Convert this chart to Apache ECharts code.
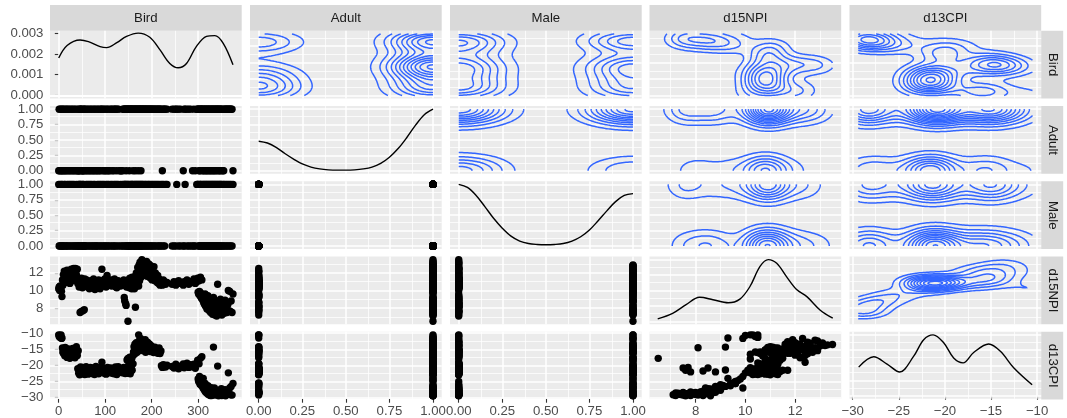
<!DOCTYPE html>
<html>
<head>
<meta charset="utf-8">
<script src="https://cdn.jsdelivr.net/npm/echarts@6/dist/echarts.min.js"></script>
<style>
html,body{margin:0;padding:0;background:#ffffff;}
#chart{width:1067px;height:418px;}
</style>
</head>
<body>
<div id="chart"></div>
<script>
// ---- observations: one entry per sample ----
const bird = [0,1,2,3,5,6,7,8,9,10,
12,13,14,16,17,18,20,21,23,24,
26,27,29,30,32,33,35,36,38,40,
41,42,43,44,45,46,47,48,49,50,
51,52,53,54,55,56,57,59,60,62,
63,65,66,68,69,71,72,74,75,77,
78,80,81,83,84,86,87,89,90,92,
93,95,96,98,99,101,102,104,105,107,
108,110,112,114,115,117,119,120,122,123,
125,127,128,131,133,135,137,138,140,141,
142,143,144,145,146,147,148,149,150,151,
152,153,154,155,156,157,158,159,160,161,
162,163,164,165,166,167,168,169,170,171,
172,173,174,175,176,177,178,179,180,181,
182,184,185,186,187,189,190,191,193,194,
195,197,198,199,201,202,204,205,207,208,
210,212,213,215,216,218,220,221,223,225,
226,228,230,233,244,248,252,254,258,262,
268,270,272,276,280,284,288,291,294,297,
299,300,301,302,303,304,305,306,307,308,
309,310,311,312,313,314,315,316,317,318,
319,320,321,322,323,324,325,326,327,328,
329,330,331,332,333,334,335,336,337,338,
339,340,341,342,343,344,345,346,347,348,
349,350,351,353,354,355,356,358,359,361,
362,364,365,367,368,370,371,373,375];

const adult = [0,1,0,1,0,1,0,1,0,1,
0,1,0,1,0,1,0,1,0,1,
0,1,0,1,0,1,0,1,0,1,
0,0,1,0,0,1,1,1,0,1,
0,0,1,0,1,1,0,1,0,1,
0,1,0,1,0,1,0,1,0,1,
0,1,0,1,0,1,0,1,0,1,
1,0,1,0,1,0,1,0,1,0,
1,0,1,1,0,1,0,1,1,1,
0,1,1,0,0,0,1,0,1,1,
1,1,1,0,1,1,1,1,1,1,
0,1,1,1,1,1,1,1,0,1,
1,1,1,0,1,1,1,1,1,0,
1,1,1,1,1,0,1,1,1,1,
1,1,1,1,1,1,1,1,1,1,
1,1,1,1,1,1,1,1,1,1,
1,1,1,1,1,1,1,1,0,1,
1,1,1,1,1,1,1,1,1,1,
0,1,1,1,1,1,0,1,0,1,
1,1,1,0,1,0,1,1,1,1,
0,1,1,0,1,1,0,1,1,0,
1,1,0,1,1,0,1,1,0,1,
1,0,1,1,0,1,1,0,1,1,
0,1,1,1,0,1,1,0,1,1,
0,1,1,0,1,0,1,1,1,1,
1,1,1,1,1,1,1,1,0];

const male = [1,0,0,1,0,1,0,1,0,0,
1,0,1,0,0,1,0,1,0,1,
0,1,0,1,0,1,0,0,1,0,
0,1,0,1,0,1,1,0,0,1,
0,1,0,1,0,0,0,1,0,1,
0,1,0,1,0,1,0,0,1,0,
1,0,0,1,0,1,0,1,0,1,
0,1,0,1,0,0,1,0,1,0,
1,0,1,0,1,0,1,0,1,0,
1,0,1,0,1,0,1,0,1,0,
1,1,0,1,0,1,0,1,0,1,
0,0,1,0,1,0,1,1,0,0,
1,0,1,0,1,0,1,0,1,0,
1,0,1,0,1,0,1,0,1,0,
1,0,1,0,1,0,1,0,1,0,
1,0,1,0,1,0,1,0,1,0,
1,0,1,0,1,0,1,0,1,0,
1,0,1,1,0,0,0,1,0,0,
0,0,1,0,0,0,0,0,0,1,
1,1,0,0,1,0,1,1,0,0,
1,0,1,0,1,0,1,0,1,0,
1,0,1,0,1,0,1,0,1,0,
1,0,1,0,1,0,1,0,1,0,
1,0,1,0,1,0,1,0,1,0,
1,0,1,0,1,0,1,0,1,0,
1,0,1,0,1,0,1,0,1];

const d15n = [10.2,10.4,10.0,10.5,10.3,9.9,9.3,11.2,10.6,11.8,
12.2,11.5,10.9,12.0,11.4,12.3,11.0,11.7,12.1,10.8,
11.6,12.4,11.1,11.9,12.5,11.3,12.2,12.5,11.8,12.4,
10.8,11.0,11.2,10.4,11.0,7.5,10.6,7.6,11.4,10.9,
10.3,7.7,11.1,10.7,7.8,11.3,10.5,10.9,11.2,10.4,
10.8,11.0,10.2,10.6,11.1,10.9,10.3,10.7,11.3,10.5,
10.1,10.8,11.0,10.4,10.9,11.2,10.6,10.2,11.0,10.7,
12.4,11.1,10.5,10.9,11.3,10.8,10.4,11.7,10.9,10.6,
11.1,10.7,11.2,10.5,10.9,11.0,10.6,11.3,10.8,10.4,
10.3,10.9,11.1,10.7,10.5,11.0,10.8,10.6,11.2,9.2,
8.8,10.9,8.5,8.3,10.4,11.0,10.6,6.5,11.2,10.8,
10.3,11.4,10.9,10.5,11.1,10.2,11.5,10.7,11.3,10.4,
11.0,10.2,11.6,8.1,10.8,12.0,10.5,11.8,12.6,11.3,
10.5,12.9,11.1,13.2,12.3,11.5,12.8,13.5,12.1,11.7,
12.9,13.1,12.4,11.9,12.7,13.3,11.6,12.5,12.0,13.0,
12.2,11.4,12.8,12.6,11.2,12.3,11.8,12.7,11.1,12.0,
11.5,10.9,11.7,10.8,11.3,10.6,11.0,10.9,10.6,11.2,
10.8,11.0,10.7,10.9,10.7,11.0,10.6,10.9,11.1,10.8,
10.6,11.0,10.8,11.2,10.7,11.0,10.9,11.3,10.8,11.0,
11.4,9.8,9.6,11.1,9.9,9.4,11.5,9.7,9.1,11.2,
9.5,8.9,9.3,8.6,9.0,8.4,9.6,8.2,8.8,9.2,
7.9,8.5,9.4,8.0,8.7,7.7,9.0,8.3,7.5,8.9,
7.8,8.6,7.3,8.1,9.2,7.6,8.4,7.2,8.8,7.4,
8.2,7.1,8.0,10.7,7.8,8.6,7.3,8.3,7.5,9.0,
7.9,8.5,7.2,8.7,7.7,8.1,7.4,8.9,7.6,8.2,
7.5,8.4,10.0,7.7,9.9,7.6,8.8,7.5,9.6];

const d13c = [-10.5,-11.0,-10.7,-11.3,-10.5,-11.6,-11.5,-14.6,-15.8,-16.2,
-15.1,-17.0,-14.4,-16.8,-15.5,-17.5,-16.0,-14.9,-16.6,-17.8,
-15.3,-16.1,-17.2,-14.7,-16.4,-15.7,-17.6,-15.0,-14.2,-16.9,
-21.0,-15.4,-22.4,-21.8,-22.9,-20.8,-20.5,-21.5,-21.9,-22.6,
-21.3,-20.6,-22.2,-20.9,-22.0,-22.8,-21.6,-20.4,-22.1,-21.4,
-22.7,-21.1,-22.3,-20.6,-21.7,-22.5,-21.2,-20.8,-22.0,-22.8,
-21.5,-20.3,-21.9,-22.4,-21.0,-22.6,-21.3,-20.7,-22.2,-21.6,
-19.0,-22.0,-20.9,-21.8,-22.5,-21.1,-22.7,-21.5,-20.6,-22.3,
-21.2,-22.0,-20.8,-21.7,-22.4,-21.0,-22.6,-21.4,-20.5,-21.9,
-22.8,-21.3,-20.4,-22.1,-21.6,-20.9,-22.3,-21.1,-20.6,-21.4,
-22.0,-22.5,-20.8,-21.7,-21.0,-18.3,-22.4,-17.8,-20.2,-18.9,
-21.8,-17.4,-22.6,-19.2,-20.8,-18.0,-21.5,-17.1,-19.5,-15.8,
-14.2,-16.5,-13.4,-14.5,-15.2,-12.9,-16.0,-14.0,-13.1,-15.6,
-10.5,-12.4,-14.6,-13.8,-11.6,-15.0,-12.2,-13.5,-14.8,-12.6,
-15.4,-13.0,-14.1,-12.0,-15.9,-13.6,-14.4,-12.8,-15.1,-14.0,
-13.3,-15.7,-14.5,-13.9,-15.3,-14.7,-16.0,-15.0,-14.3,-15.6,
-14.9,-15.8,-16.2,-15.2,-14.6,-16.3,-15.5,-20.1,-20.6,-19.8,
-20.4,-20.0,-20.5,-19.9,-20.3,-20.8,-19.6,-20.5,-21.0,-20.2,
-19.5,-20.7,-20.0,-19.3,-20.6,-19.8,-20.4,-19.6,-20.9,-19.4,
-18.4,-24.2,-25.0,-19.5,-23.4,-25.8,-17.8,-24.7,-26.2,-17.3,
-25.4,-26.8,-24.0,-27.3,-26.0,-27.8,-25.6,-28.2,-27.0,-26.5,
-28.6,-27.5,-26.3,-29.0,-28.0,-28.8,-27.2,-29.3,-28.4,-26.9,
-29.3,-28.1,-28.9,-28.9,-14.3,-29.2,-27.0,-28.5,-28.3,-29.0,
-28.7,-29.1,-28.4,-20.2,-28.2,-29.4,-28.6,-28.0,-29.0,-27.7,
-28.6,-27.2,-29.3,-28.4,-28.7,-29.2,-28.8,-27.5,-29.4,-28.3,
-28.5,-28.8,-22.3,-28.9,-27.0,-29.1,-26.5,-29.2,-25.6];

// ---- marginal density curves (diagonal panels) ----
const birdDensX = [0,18,46,64,89,103,125,146,171,196,218,239,257,275,296,318,336,354,375];
const birdDensY = [0.00180,0.00240,0.00267,0.00259,0.00235,0.00230,0.00254,0.00284,0.00300,0.00280,0.00219,0.00154,0.00133,0.00154,0.00235,0.00284,0.00288,0.00251,0.00148];
const binDensX = [0,0.05,0.1,0.15,0.2,0.25,0.3,0.35,0.4,0.45,0.5,0.55,0.6,0.65,0.7,0.75,0.8,0.85,0.9,0.95,1];
const adultDensY = [0.48,0.45,0.38,0.28,0.19,0.11,0.06,0.03,0.015,0.01,0.01,0.015,0.03,0.06,0.12,0.22,0.36,0.54,0.74,0.91,1.0];
const maleDensY = [1.0,0.95,0.82,0.64,0.45,0.29,0.16,0.08,0.04,0.025,0.02,0.025,0.04,0.08,0.15,0.26,0.41,0.57,0.72,0.82,0.85];
const d15nDensX = [6.48,7.08,7.62,8.16,8.70,9.31,9.78,10.18,10.59,10.92,11.26,11.66,12.07,12.47,13.01,13.51];
const d15nDensY = [0.04,0.13,0.27,0.39,0.35,0.30,0.36,0.56,0.89,1.0,0.94,0.72,0.51,0.40,0.18,0.05];
const d13cDensX = [-29.35,-27.72,-26.27,-24.9,-23.38,-22.3,-21.28,-20.13,-19.05,-18.03,-16.88,-15.25,-13.98,-12.54,-10.54];
const d13cDensY = [0.47,0.64,0.52,0.39,0.65,0.92,1.0,0.87,0.62,0.54,0.71,0.85,0.73,0.46,0.18];

// ---- axis breaks ----
const varNames = ['Bird','Adult','Male','d15NPI','d13CPI'];
const birdTicks = [0,100,200,300];
const binTicks = [0,0.25,0.5,0.75,1];
const d15nTicks = [8,10,12];
const d13cTicks = [-30,-25,-20,-15,-10];
const densTicks = [0,0.001,0.002,0.003];
const relDensTicks = [0,0.25,0.5,0.75,1];

// ---- layout ----
const FONT = '"Liberation Sans", Arial, Helvetica, sans-serif';
const FONT_SIZE = 13.2;
const colLeft = [50, 250, 450, 649.5, 849.5];
const panelW = 191.7;
const rowTop = [30.8, 106.05, 181.3, 256.55, 331.8];
const panelH = 67.8;

const vars = [bird, adult, male, d15n, d13c];
const ticksOf = [birdTicks, binTicks, binTicks, d15nTicks, d13cTicks];
const minus = s => s.replace('-', '\u2212');
const fmtOf = [v => String(Math.round(v)), v => v.toFixed(2), v => v.toFixed(2), v => String(Math.round(v)), v => minus(String(Math.round(v)))];
const diagCurves = [
  [birdDensX, birdDensY], [binDensX, adultDensY], [binDensX, maleDensY], [d15nDensX, d15nDensY], [d13cDensX, d13cDensY]
];

function extentOf(a) {
  let lo = Infinity, hi = -Infinity;
  for (const v of a) { if (v < lo) lo = v; if (v > hi) hi = v; }
  const e = (hi - lo) * 0.05;
  return { lo, hi, min: lo - e, max: hi + e };
}
const ext = vars.map(extentOf);
const birdDensExt = { min: -0.00015, max: 0.00311 };
const relExt = { min: -0.05, max: 1.05 };

function minorsOf(major, min, max) {
  const out = [];
  const step = major[1] - major[0];
  for (let i = 0; i < major.length - 1; i++) out.push((major[i] + major[i + 1]) / 2);
  if (major[0] - step / 2 > min) out.unshift(major[0] - step / 2);
  if (major[major.length - 1] + step / 2 < max) out.push(major[major.length - 1] + step / 2);
  return out;
}

// ---- statistics for the density contours ----
function quantile(sorted, p) {
  const h = (sorted.length - 1) * p, lo = Math.floor(h);
  const hi = Math.min(lo + 1, sorted.length - 1);
  return sorted[lo] + (h - lo) * (sorted[hi] - sorted[lo]);
}
function bandwidthNrd(x) {
  const s = x.slice().sort((a, b) => a - b);
  const iqr = (quantile(s, 0.75) - quantile(s, 0.25)) / 1.34;
  const m = x.reduce((a, b) => a + b, 0) / x.length;
  const sd = Math.sqrt(x.reduce((a, b) => a + (b - m) * (b - m), 0) / (x.length - 1));
  return 4 * 1.06 * Math.min(sd, iqr) * Math.pow(x.length, -0.2);
}
function kde2d(x, y, n) {
  const hx = bandwidthNrd(x) / 4, hy = bandwidthNrd(y) / 4;
  const ex = extentOf(x), ey = extentOf(y);
  const gx = [], gy = [];
  for (let i = 0; i < n; i++) {
    gx.push(ex.lo + (ex.hi - ex.lo) * i / (n - 1));
    gy.push(ey.lo + (ey.hi - ey.lo) * i / (n - 1));
  }
  const N = x.length, c = 1 / Math.sqrt(2 * Math.PI);
  const ax = gx.map(g => x.map(v => { const u = (g - v) / hx; return c * Math.exp(-0.5 * u * u); }));
  const ay = gy.map(g => y.map(v => { const u = (g - v) / hy; return c * Math.exp(-0.5 * u * u); }));
  const z = [];
  for (let i = 0; i < n; i++) {
    const row = new Float64Array(n);
    const a = ax[i];
    for (let j = 0; j < n; j++) {
      const b = ay[j];
      let s = 0;
      for (let k = 0; k < N; k++) s += a[k] * b[k];
      row[j] = s / (N * hx * hy);
    }
    z.push(row);
  }
  return { gx, gy, z };
}
function prettyBreaks(lo, hi, n) {
  const cell = (hi - lo) / n;
  const U = Math.pow(10, Math.floor(Math.log10(cell)));
  let unit = U;
  if (2 * U - cell < 1.5 * (cell - unit)) {
    unit = 2 * U;
    if (5 * U - cell < 2.75 * (cell - unit)) {
      unit = 5 * U;
      if (10 * U - cell < 1.5 * (cell - unit)) unit = 10 * U;
    }
  }
  const ns = Math.floor(lo / unit + 1e-7), nu = Math.ceil(hi / unit - 1e-7);
  const out = [];
  for (let i = ns; i <= nu; i++) out.push(i * unit);
  return out;
}
function isolines(gx, gy, z, level) {
  const nx = gx.length, ny = gy.length;
  const pts = new Map(), adj = new Map();
  const pt = (key, xa, ya, za, xb, yb, zb) => {
    if (!pts.has(key)) { const t = (level - za) / (zb - za); pts.set(key, [xa + t * (xb - xa), ya + t * (yb - ya)]); }
    return key;
  };
  const link = (a, b) => {
    if (!adj.has(a)) adj.set(a, []);
    if (!adj.has(b)) adj.set(b, []);
    adj.get(a).push(b); adj.get(b).push(a);
  };
  for (let i = 0; i < nx - 1; i++) {
    for (let j = 0; j < ny - 1; j++) {
      const zbl = z[i][j], zbr = z[i + 1][j], ztr = z[i + 1][j + 1], ztl = z[i][j + 1];
      let c = 0;
      if (zbl >= level) c |= 1; if (zbr >= level) c |= 2; if (ztr >= level) c |= 4; if (ztl >= level) c |= 8;
      if (c === 0 || c === 15) continue;
      const B = () => pt('h' + i + '_' + j, gx[i], gy[j], zbl, gx[i + 1], gy[j], zbr);
      const T = () => pt('h' + i + '_' + (j + 1), gx[i], gy[j + 1], ztl, gx[i + 1], gy[j + 1], ztr);
      const L = () => pt('v' + i + '_' + j, gx[i], gy[j], zbl, gx[i], gy[j + 1], ztl);
      const R = () => pt('v' + (i + 1) + '_' + j, gx[i + 1], gy[j], zbr, gx[i + 1], gy[j + 1], ztr);
      const centre = (zbl + zbr + ztr + ztl) / 4 >= level;
      switch (c) {
        case 1: case 14: link(L(), B()); break;
        case 2: case 13: link(B(), R()); break;
        case 3: case 12: link(L(), R()); break;
        case 4: case 11: link(R(), T()); break;
        case 6: case 9: link(B(), T()); break;
        case 7: case 8: link(L(), T()); break;
        case 5: if (centre) { link(L(), T()); link(B(), R()); } else { link(L(), B()); link(R(), T()); } break;
        case 10: if (centre) { link(L(), B()); link(R(), T()); } else { link(B(), R()); link(L(), T()); } break;
      }
    }
  }
  const walk = start => {
    const chain = [pts.get(start)];
    let cur = start;
    while (true) {
      const nb = adj.get(cur);
      if (!nb || nb.length === 0) break;
      const nxt = nb.pop();
      const back = adj.get(nxt), idx = back.indexOf(cur);
      if (idx >= 0) back.splice(idx, 1);
      chain.push(pts.get(nxt));
      cur = nxt;
      if (cur === start) break;
    }
    return chain;
  };
  const chains = [];
  for (const [k, nb] of adj) if (nb.length === 1) chains.push(walk(k));
  for (const [k, nb] of adj) while (nb.length > 0) chains.push(walk(k));
  return chains;
}
function densityContours(x, y) {
  const { gx, gy, z } = kde2d(x, y, 100);
  let lo = Infinity, hi = -Infinity;
  for (const row of z) for (const v of row) { if (v < lo) lo = v; if (v > hi) hi = v; }
  const levels = prettyBreaks(lo, hi, 10);
  const out = [];
  for (const lv of levels) {
    if (lv <= lo || lv >= hi) continue;
    for (const ch of isolines(gx, gy, z, lv)) if (ch.length > 1) out.push({ coords: ch });
  }
  return out;
}

// ---- build the panel matrix ----
const grids = [], xAxes = [], yAxes = [], series = [];
const labelStyle = { color: '#4D4D4D', fontSize: FONT_SIZE, fontFamily: FONT };

for (let r = 0; r < 5; r++) {
  for (let c = 0; c < 5; c++) {
    const k = r * 5 + c;
    grids.push({ left: colLeft[c], top: rowTop[r], width: panelW, height: panelH, show: true, backgroundColor: '#EBEBEB', borderWidth: 0, containLabel: false });

    const xe = ext[c];
    let ye, yMajor, yFmt;
    if (r === c) {
      if (r === 0) { ye = birdDensExt; yMajor = densTicks; yFmt = v => v.toFixed(3); }
      else { ye = relExt; yMajor = relDensTicks; yFmt = v => String(v); }
    } else { ye = ext[r]; yMajor = ticksOf[r]; yFmt = fmtOf[r]; }
    const xMajor = ticksOf[c];

    xAxes.push({
      type: 'value', gridIndex: k, min: xe.min, max: xe.max,
      splitLine: { show: false }, axisLine: { show: false },
      axisTick: { show: r === 4, customValues: xMajor, length: 3.9, lineStyle: { color: '#333333', width: 1.1 } },
      axisLabel: Object.assign({ show: r === 4, customValues: xMajor, formatter: fmtOf[c], margin: 6.2 }, labelStyle)
    });
    yAxes.push({
      type: 'value', gridIndex: k, min: ye.min, max: ye.max,
      splitLine: { show: false }, axisLine: { show: false },
      axisTick: { show: c === 0, customValues: yMajor, length: 3.9, lineStyle: { color: '#333333', width: 1.1 } },
      axisLabel: Object.assign({ show: c === 0, customValues: yMajor, formatter: yFmt, margin: 6.6 }, labelStyle)
    });

    // panel grid lines
    const gridLines = [];
    minorsOf(xMajor, xe.min, xe.max).forEach(v => gridLines.push({ xAxis: v, lineStyle: { width: 0.75 } }));
    minorsOf(yMajor, ye.min, ye.max).forEach(v => gridLines.push({ yAxis: v, lineStyle: { width: 0.75 } }));
    xMajor.forEach(v => gridLines.push({ xAxis: v }));
    yMajor.forEach(v => gridLines.push({ yAxis: v }));
    series.push({
      type: 'line', xAxisIndex: k, yAxisIndex: k, data: [], silent: true, z: 1,
      markLine: { silent: true, z: 1, symbol: ['none', 'none'], label: { show: false }, animation: false,
        emphasis: { disabled: true },
        lineStyle: { color: '#FFFFFF', type: 'solid', width: 1.5 }, data: gridLines }
    });

    if (r === c) {
      const [dx, dy] = diagCurves[r];
      series.push({
        type: 'line', xAxisIndex: k, yAxisIndex: k, data: dx.map((v, i) => [v, dy[i]]),
        smooth: 0.35, symbol: 'none', silent: true, z: 3,
        lineStyle: { color: '#000000', width: 1.4 }
      });
    } else if (r > c) {
      series.push({
        type: 'scatter', xAxisIndex: k, yAxisIndex: k, silent: true, z: 3,
        data: vars[c].map((v, i) => [v, vars[r][i]]),
        symbolSize: 7.4, itemStyle: { color: '#000000', opacity: 1 }
      });
    } else {
      series.push({
        type: 'lines', coordinateSystem: 'cartesian2d', xAxisIndex: k, yAxisIndex: k,
        polyline: true, silent: true, z: 3,
        data: densityContours(vars[c], vars[r]),
        lineStyle: { color: '#3366FF', width: 1.5, opacity: 1, curveness: 0 }
      });
    }
  }
}

// ---- facet strips ----
const graphics = [];
for (let c = 0; c < 5; c++) {
  graphics.push({ type: 'rect', shape: { x: colLeft[c], y: 5, width: panelW, height: 25.8 }, style: { fill: '#D9D9D9' }, silent: true });
  graphics.push({ type: 'text', x: colLeft[c] + panelW / 2, y: 18.2, silent: true,
    style: { text: varNames[c], fill: '#1A1A1A', fontSize: FONT_SIZE, fontFamily: FONT, align: 'center', verticalAlign: 'middle' } });
}
for (let r = 0; r < 5; r++) {
  graphics.push({ type: 'rect', shape: { x: 1041.2, y: rowTop[r], width: 22, height: panelH }, style: { fill: '#D9D9D9' }, silent: true });
  graphics.push({ type: 'text', x: 1041.2 + 11, y: rowTop[r] + panelH / 2, rotation: -Math.PI / 2, silent: true,
    style: { text: varNames[r], fill: '#1A1A1A', fontSize: FONT_SIZE, fontFamily: FONT, align: 'center', verticalAlign: 'middle' } });
}

const chart = echarts.init(document.getElementById('chart'), null, { renderer: 'canvas', width: 1067, height: 418 });
chart.setOption({
  animation: false,
  backgroundColor: '#FFFFFF',
  grid: grids,
  xAxis: xAxes,
  yAxis: yAxes,
  series: series,
  graphic: graphics
});
</script>
</body>
</html>
